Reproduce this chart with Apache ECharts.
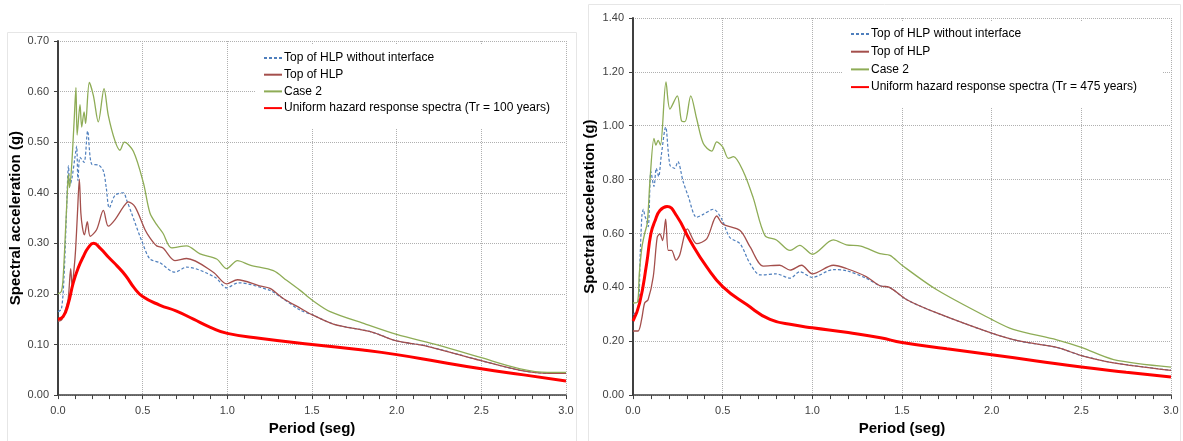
<!DOCTYPE html>
<html>
<head>
<meta charset="utf-8">
<script src="https://cdn.jsdelivr.net/npm/echarts@6/dist/echarts.min.js"></script>
<style>
html,body{margin:0;padding:0;background:#fff;}
#c{width:1183px;height:441px;}
</style>
</head>
<body>
<div id="c"></div>
<script>
// ---------- Left chart (Tr = 100 years) ----------
const leftBlueT = [0, 0.02, 0.035, 0.05, 0.062, 0.07, 0.083, 0.1, 0.11, 0.118, 0.13, 0.154, 0.175, 0.2, 0.238, 0.268, 0.285, 0.303, 0.337, 0.386, 0.406, 0.435, 0.5, 0.543, 0.6, 0.69, 0.76, 0.927, 0.996, 1.065, 1.252, 1.31, 1.43, 1.5, 1.63, 1.85, 2.0, 2.17, 2.5, 2.73, 2.9, 3.0];
const leftBlueV = [0.165, 0.17, 0.23, 0.36, 0.453, 0.414, 0.43, 0.47, 0.492, 0.424, 0.47, 0.46, 0.522, 0.456, 0.455, 0.443, 0.41, 0.37, 0.395, 0.40, 0.385, 0.359, 0.30, 0.269, 0.262, 0.243, 0.253, 0.233, 0.212, 0.222, 0.207, 0.195, 0.168, 0.159, 0.14, 0.125, 0.107, 0.0975, 0.068, 0.049, 0.043, 0.043];

const leftHlpT = [0, 0.02, 0.04, 0.06, 0.075, 0.083, 0.095, 0.104, 0.115, 0.126, 0.135, 0.145, 0.156, 0.173, 0.19, 0.228, 0.268, 0.297, 0.337, 0.386, 0.415, 0.455, 0.514, 0.543, 0.583, 0.62, 0.69, 0.76, 0.917, 0.996, 1.06, 1.19, 1.252, 1.33, 1.43, 1.5, 1.63, 1.85, 2.0, 2.17, 2.5, 2.73, 2.9, 3.0];
const leftHlpV = [0.146, 0.148, 0.165, 0.19, 0.25, 0.217, 0.25, 0.288, 0.36, 0.427, 0.36, 0.33, 0.317, 0.343, 0.314, 0.327, 0.365, 0.334, 0.347, 0.372, 0.382, 0.372, 0.327, 0.311, 0.295, 0.291, 0.266, 0.270, 0.243, 0.220, 0.228, 0.216, 0.211, 0.191, 0.172, 0.159, 0.14, 0.125, 0.107, 0.0975, 0.068, 0.049, 0.043, 0.043];

const leftCaseT = [0, 0.02, 0.03, 0.045, 0.058, 0.062, 0.068, 0.08, 0.095, 0.106, 0.113, 0.13, 0.14, 0.154, 0.163, 0.185, 0.209, 0.238, 0.272, 0.297, 0.337, 0.366, 0.392, 0.445, 0.504, 0.543, 0.583, 0.62, 0.671, 0.76, 0.839, 0.937, 0.996, 1.06, 1.134, 1.272, 1.35, 1.43, 1.5, 1.607, 1.82, 2.0, 2.256, 2.5, 2.73, 2.89, 3.0];
const leftCaseV = [0.20, 0.205, 0.23, 0.33, 0.42, 0.437, 0.41, 0.45, 0.54, 0.608, 0.514, 0.574, 0.53, 0.56, 0.537, 0.618, 0.592, 0.54, 0.606, 0.553, 0.502, 0.484, 0.50, 0.482, 0.42, 0.36, 0.337, 0.32, 0.291, 0.295, 0.279, 0.269, 0.25, 0.266, 0.257, 0.246, 0.227, 0.207, 0.188, 0.165, 0.14, 0.12, 0.098, 0.074, 0.052, 0.045, 0.045];

const leftUhsT = [0, 0.03, 0.06, 0.09, 0.12, 0.15, 0.18, 0.21, 0.25, 0.3, 0.35, 0.4, 0.45, 0.5, 0.6, 0.7, 0.8, 0.9, 1.0, 1.2, 1.5, 1.8, 2.0, 2.25, 2.5, 2.75, 3.0];
const leftUhsV = [0.150, 0.155, 0.18, 0.222, 0.252, 0.274, 0.292, 0.300, 0.29, 0.272, 0.255, 0.236, 0.212, 0.195, 0.178, 0.166, 0.150, 0.134, 0.122, 0.112, 0.100, 0.089, 0.080, 0.066, 0.052, 0.040, 0.028];

// ---------- Right chart (Tr = 475 years) ----------
const rightBlueT = [0, 0.028, 0.04, 0.05, 0.058, 0.066, 0.075, 0.085, 0.1, 0.117, 0.13, 0.143, 0.158, 0.182, 0.206, 0.232, 0.25, 0.279, 0.307, 0.355, 0.392, 0.448, 0.495, 0.539, 0.597, 0.653, 0.71, 0.8, 0.876, 0.93, 1.0, 1.117, 1.19, 1.3, 1.377, 1.43, 1.527, 1.694, 2.0, 2.158, 2.363, 2.5, 2.68, 3.0];
const rightBlueV = [0.299, 0.318, 0.52, 0.67, 0.69, 0.665, 0.65, 0.625, 0.83, 0.775, 0.842, 0.812, 0.891, 0.995, 0.854, 0.842, 0.867, 0.794, 0.74, 0.66, 0.671, 0.69, 0.653, 0.586, 0.562, 0.488, 0.446, 0.45, 0.434, 0.458, 0.437, 0.466, 0.462, 0.434, 0.406, 0.40, 0.354, 0.305, 0.23, 0.20, 0.177, 0.147, 0.12, 0.092];

const rightHlpT = [0, 0.028, 0.048, 0.065, 0.084, 0.113, 0.135, 0.15, 0.165, 0.182, 0.197, 0.215, 0.24, 0.26, 0.303, 0.355, 0.411, 0.467, 0.5, 0.597, 0.653, 0.727, 0.818, 0.876, 0.94, 1.0, 1.117, 1.19, 1.3, 1.377, 1.43, 1.527, 1.694, 2.0, 2.158, 2.363, 2.5, 2.68, 3.0];
const rightHlpV = [0.238, 0.238, 0.281, 0.342, 0.354, 0.44, 0.586, 0.598, 0.574, 0.653, 0.537, 0.537, 0.501, 0.519, 0.617, 0.562, 0.58, 0.665, 0.635, 0.611, 0.55, 0.479, 0.482, 0.464, 0.482, 0.45, 0.482, 0.47, 0.44, 0.406, 0.40, 0.354, 0.305, 0.23, 0.20, 0.177, 0.147, 0.12, 0.092];

const rightCaseT = [0, 0.025, 0.035, 0.05, 0.065, 0.08, 0.095, 0.117, 0.128, 0.14, 0.153, 0.184, 0.206, 0.247, 0.27, 0.29, 0.322, 0.355, 0.392, 0.439, 0.467, 0.5, 0.532, 0.56, 0.615, 0.67, 0.736, 0.8, 0.876, 0.93, 1.0, 1.117, 1.19, 1.27, 1.377, 1.433, 1.5, 1.694, 2.0, 2.12, 2.363, 2.5, 2.68, 3.0];
const rightCaseV = [0.342, 0.345, 0.45, 0.55, 0.60, 0.64, 0.80, 0.953, 0.928, 0.946, 0.928, 1.163, 1.062, 1.111, 1.019, 1.015, 1.111, 1.026, 0.934, 0.906, 0.94, 0.922, 0.879, 0.885, 0.83, 0.733, 0.592, 0.576, 0.537, 0.556, 0.523, 0.576, 0.558, 0.553, 0.525, 0.519, 0.482, 0.391, 0.281, 0.244, 0.205, 0.177, 0.132, 0.104];

const rightUhsT = [0, 0.037, 0.076, 0.1, 0.123, 0.15, 0.19, 0.244, 0.318, 0.411, 0.5, 0.634, 0.764, 0.9, 1.0, 1.2, 1.38, 1.5, 1.75, 2.0, 2.25, 2.5, 2.75, 3.0];
const rightUhsV = [0.275, 0.342, 0.488, 0.6, 0.647, 0.685, 0.70, 0.665, 0.574, 0.476, 0.403, 0.336, 0.281, 0.26, 0.25, 0.232, 0.213, 0.195, 0.172, 0.15, 0.127, 0.104, 0.085, 0.067];

// ---------- Labels ----------
const nameBlue = 'Top of HLP without interface';
const nameHlp = 'Top of HLP';
const nameCase = 'Case 2';
const nameUhsLeft = 'Uniform hazard response spectra (Tr = 100 years)';
const nameUhsRight = 'Uniform hazard response spectra (Tr = 475 years)';
const xTitle = 'Period (seg)';
const yTitle = 'Spectral acceleration (g)';

function zip(t, v) { return t.map((x, i) => [x, v[i]]); }

const FONT = '"Liberation Sans", Arial, sans-serif';
const AX = '#404040';

function xAxisDef(gi) {
  return {
    type: 'value', gridIndex: gi, min: 0, max: 3, interval: 0.5,
    name: xTitle, nameLocation: 'middle', nameGap: 25,
    nameTextStyle: { fontFamily: FONT, fontWeight: 'bold', fontSize: 15, color: '#000' },
    axisLine: { show: true, lineStyle: { color: AX, width: 1.5 } },
    axisTick: { show: true, length: 4, lineStyle: { color: AX } },
    minorTick: { show: true, splitNumber: 5, length: 4, lineStyle: { color: AX } },
    axisLabel: { fontFamily: FONT, fontSize: 11, color: '#404040', margin: 10, formatter: v => v.toFixed(1) },
    splitLine: { show: true, lineStyle: { type: 'dotted', color: '#b0b0b0', width: 1 } }
  };
}
function yAxisDef(gi, max, interval, gap) {
  return {
    type: 'value', gridIndex: gi, min: 0, max: max, interval: interval,
    name: yTitle, nameLocation: 'middle', nameGap: gap,
    nameTextStyle: { fontFamily: FONT, fontWeight: 'bold', fontSize: 15, color: '#000' },
    axisLine: { show: true, lineStyle: { color: AX, width: 2 } },
    axisTick: { show: true, length: 4, lineStyle: { color: AX } },
    axisLabel: { fontFamily: FONT, fontSize: 11, color: '#404040', margin: 9, formatter: v => v.toFixed(2) },
    splitLine: { show: true, lineStyle: { type: 'dotted', color: '#b0b0b0', width: 1 } }
  };
}
function lineSeries(name, gi, t, v, color, width, dashed, smooth) {
  return {
    type: 'line', name: name, xAxisIndex: gi, yAxisIndex: gi,
    data: zip(t, v), showSymbol: false, symbol: 'none',
    smooth: smooth,
    lineStyle: { color: color, width: width, type: dashed ? [3, 2] : 'solid' },
    itemStyle: { color: color },
    z: width > 2 ? 5 : 3,
    animation: false
  };
}
function legendDef(names, left, top, gap, padRight) {
  return {
    orient: 'vertical', left: left, top: top,
    data: names, backgroundColor: '#ffffff',
    padding: [7, padRight, 14, 8],
    itemWidth: 18, itemHeight: 12, itemGap: gap,
    selectedMode: false,
    itemStyle: { opacity: 0, borderWidth: 0 },
    textStyle: { fontFamily: FONT, fontSize: 12, color: '#000', lineHeight: 12, padding: [0, 0, 0, -3] }
  };
}

const BLUE = '#4f7fbd', HLP = '#a44f4c', CASE = '#8eac56', UHS = '#ff0000';

const option = {
  backgroundColor: '#ffffff',
  animation: false,
  grid: [
    { left: 58, top: 41, width: 508, height: 361, containLabel: false },
    { left: 633, top: 18, width: 538, height: 382, containLabel: false }
  ],
  xAxis: [xAxisDef(0), xAxisDef(1)],
  yAxis: [yAxisDef(0, 0.7, 0.1, 33), yAxisDef(1, 1.4, 0.2, 36)],
  legend: [
    legendDef([nameBlue, nameHlp, nameCase, nameUhsLeft], 255, 45, 4.7, 16),
    legendDef([nameBlue, nameHlp, nameCase, nameUhsRight], 842, 21, 5.7, 26)
  ],
  graphic: [
    { type: 'rect', shape: { x: 7.5, y: 32.5, width: 569, height: 410 }, style: { fill: null, stroke: '#e6e6e6', lineWidth: 1 }, silent: true },
    { type: 'rect', shape: { x: 588.5, y: 4.5, width: 592, height: 438 }, style: { fill: null, stroke: '#e6e6e6', lineWidth: 1 }, silent: true }
  ],
  series: [
    lineSeries(nameBlue, 0, leftBlueT, leftBlueV, BLUE, 1.2, true, 0.3),
    lineSeries(nameHlp, 0, leftHlpT, leftHlpV, HLP, 1.3, false, 0.3),
    lineSeries(nameCase, 0, leftCaseT, leftCaseV, CASE, 1.3, false, 0.3),
    lineSeries(nameUhsLeft, 0, leftUhsT, leftUhsV, UHS, 3, false, 0.5),
    lineSeries(nameBlue, 1, rightBlueT, rightBlueV, BLUE, 1.2, true, 0.3),
    lineSeries(nameHlp, 1, rightHlpT, rightHlpV, HLP, 1.3, false, 0.3),
    lineSeries(nameCase, 1, rightCaseT, rightCaseV, CASE, 1.3, false, 0.3),
    lineSeries(nameUhsRight, 1, rightUhsT, rightUhsV, UHS, 3, false, 0.5)
  ]
};

const chart = echarts.init(document.getElementById('c'), null, { renderer: 'canvas' });
chart.setOption(option);
</script>
</body>
</html>
